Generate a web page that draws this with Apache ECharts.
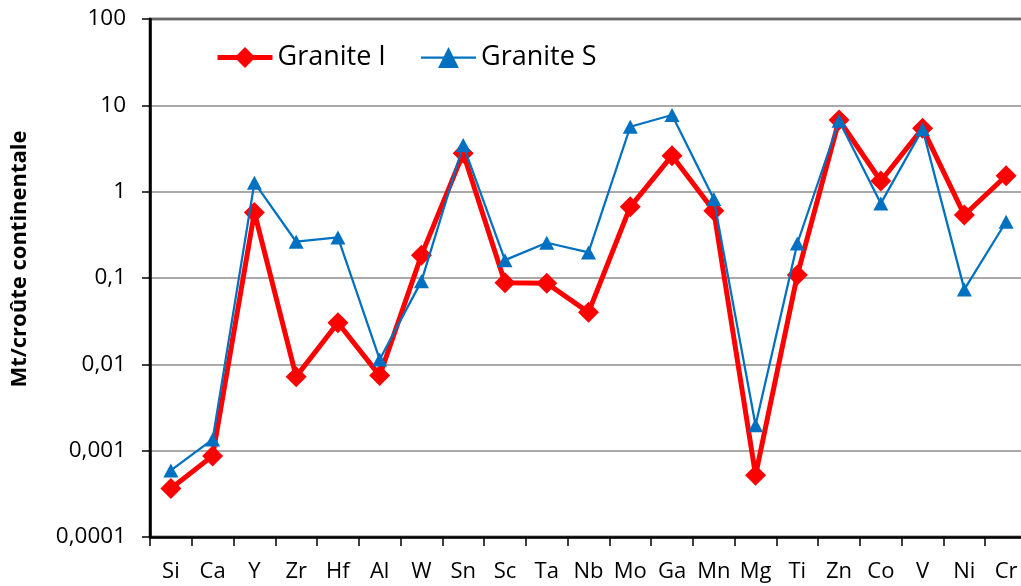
<!DOCTYPE html>
<html>
<head>
<meta charset="utf-8">
<script src="https://cdn.jsdelivr.net/npm/echarts@6/dist/echarts.min.js"></script>
<style>
  html, body { margin: 0; padding: 0; background: #fff; }
  #chart { width: 1021px; height: 586px; }
</style>
</head>
<body>
<div id="chart"></div>
<script>
// Elements along the x axis
const elements = ['Si', 'Ca', 'Y', 'Zr', 'Hf', 'Al', 'W', 'Sn', 'Sc', 'Ta', 'Nb',
                  'Mo', 'Ga', 'Mn', 'Mg', 'Ti', 'Zn', 'Co', 'V', 'Ni', 'Cr'];

// Content normalised to continental crust (Mt / croûte continentale)
const graniteI = [0.000365, 0.00087, 0.575, 0.0072, 0.0303, 0.0074, 0.184, 2.78, 0.088, 0.087, 0.040,
                  0.668, 2.61, 0.60, 0.00052, 0.108, 6.76, 1.33, 5.41, 0.536, 1.53];
const graniteS = [0.00059, 0.00135, 1.27, 0.263, 0.295, 0.0114, 0.092, 3.47, 0.161, 0.256, 0.198,
                  5.65, 7.72, 0.82, 0.00197, 0.251, 6.63, 0.731, 5.3, 0.0738, 0.448];

const seriesNames = ['Granite I', 'Granite S'];
const yTitle = 'Mt/croûte continentale';

// Log-axis tick labels with decimal comma, indexed by exponent from -4 to 2
const yTickLabels = ['0,0001', '0,001', '0,01', '0,1', '1', '10', '100'];
const yMinExp = -4;

const chart = echarts.init(document.getElementById('chart'), null, { renderer: 'canvas' });

const labelFont = '"Open Sans", sans-serif';

chart.setOption({
  backgroundColor: '#ffffff',
  animation: false,
  grid: {
    left: 150, top: 19, width: 877, height: 518,
    containLabel: false,
    outerBoundsMode: 'none',
    show: true, borderColor: '#000', borderWidth: 2.5, backgroundColor: 'transparent'
  },
  legend: {
    left: 210, top: 39,
    itemWidth: 55, itemHeight: 26, itemGap: 34,
    textStyle: { fontFamily: labelFont, fontSize: 27, color: '#000' },
    data: [
      { name: seriesNames[0], lineStyle: { width: 5 } },
      { name: seriesNames[1], lineStyle: { width: 2.25 } }
    ]
  },
  graphic: [{
    type: 'text',
    x: 20, y: 259,
    rotation: Math.PI / 2,
    style: {
      text: yTitle,
      font: 'bold 22px "Open Sans", sans-serif',
      fill: '#000',
      align: 'center',
      verticalAlign: 'middle'
    }
  }],
  xAxis: {
    type: 'category',
    data: elements,
    boundaryGap: true,
    axisLine: { show: true, lineStyle: { color: '#000', width: 2.5 } },
    axisTick: { show: true, inside: false, length: 9, lineStyle: { color: '#000', width: 1.5 } },
    axisLabel: { fontFamily: labelFont, fontSize: 22, color: '#000', margin: 24, interval: 0 },
    splitLine: { show: false }
  },
  yAxis: {
    type: 'log',
    logBase: 10,
    min: 0.0001,
    max: 100,
    axisLine: { show: true, lineStyle: { color: '#000', width: 2.5 } },
    axisTick: { show: true, inside: false, length: 8, lineStyle: { color: '#000', width: 1.5 } },
    axisLabel: {
      fontFamily: labelFont, fontSize: 22.5, color: '#000', margin: 24,
      formatter: v => yTickLabels[Math.round(Math.log10(v)) - yMinExp]
    },
    splitLine: { show: true, lineStyle: { color: '#8c8c8c', width: 1.5 } }
  },
  series: [
    {
      name: seriesNames[0],
      type: 'line',
      data: graniteI,
      symbol: 'diamond',
      symbolSize: [21, 21],
      itemStyle: { color: '#ff0000' },
      lineStyle: { color: '#ff0000', width: 5 },
      z: 2
    },
    {
      name: seriesNames[1],
      type: 'line',
      data: graniteS,
      symbol: 'triangle',
      symbolSize: [15, 14],
      itemStyle: { color: '#0070c0' },
      lineStyle: { color: '#0070c0', width: 2.25 },
      z: 3
    }
  ]
});
</script>
</body>
</html>
